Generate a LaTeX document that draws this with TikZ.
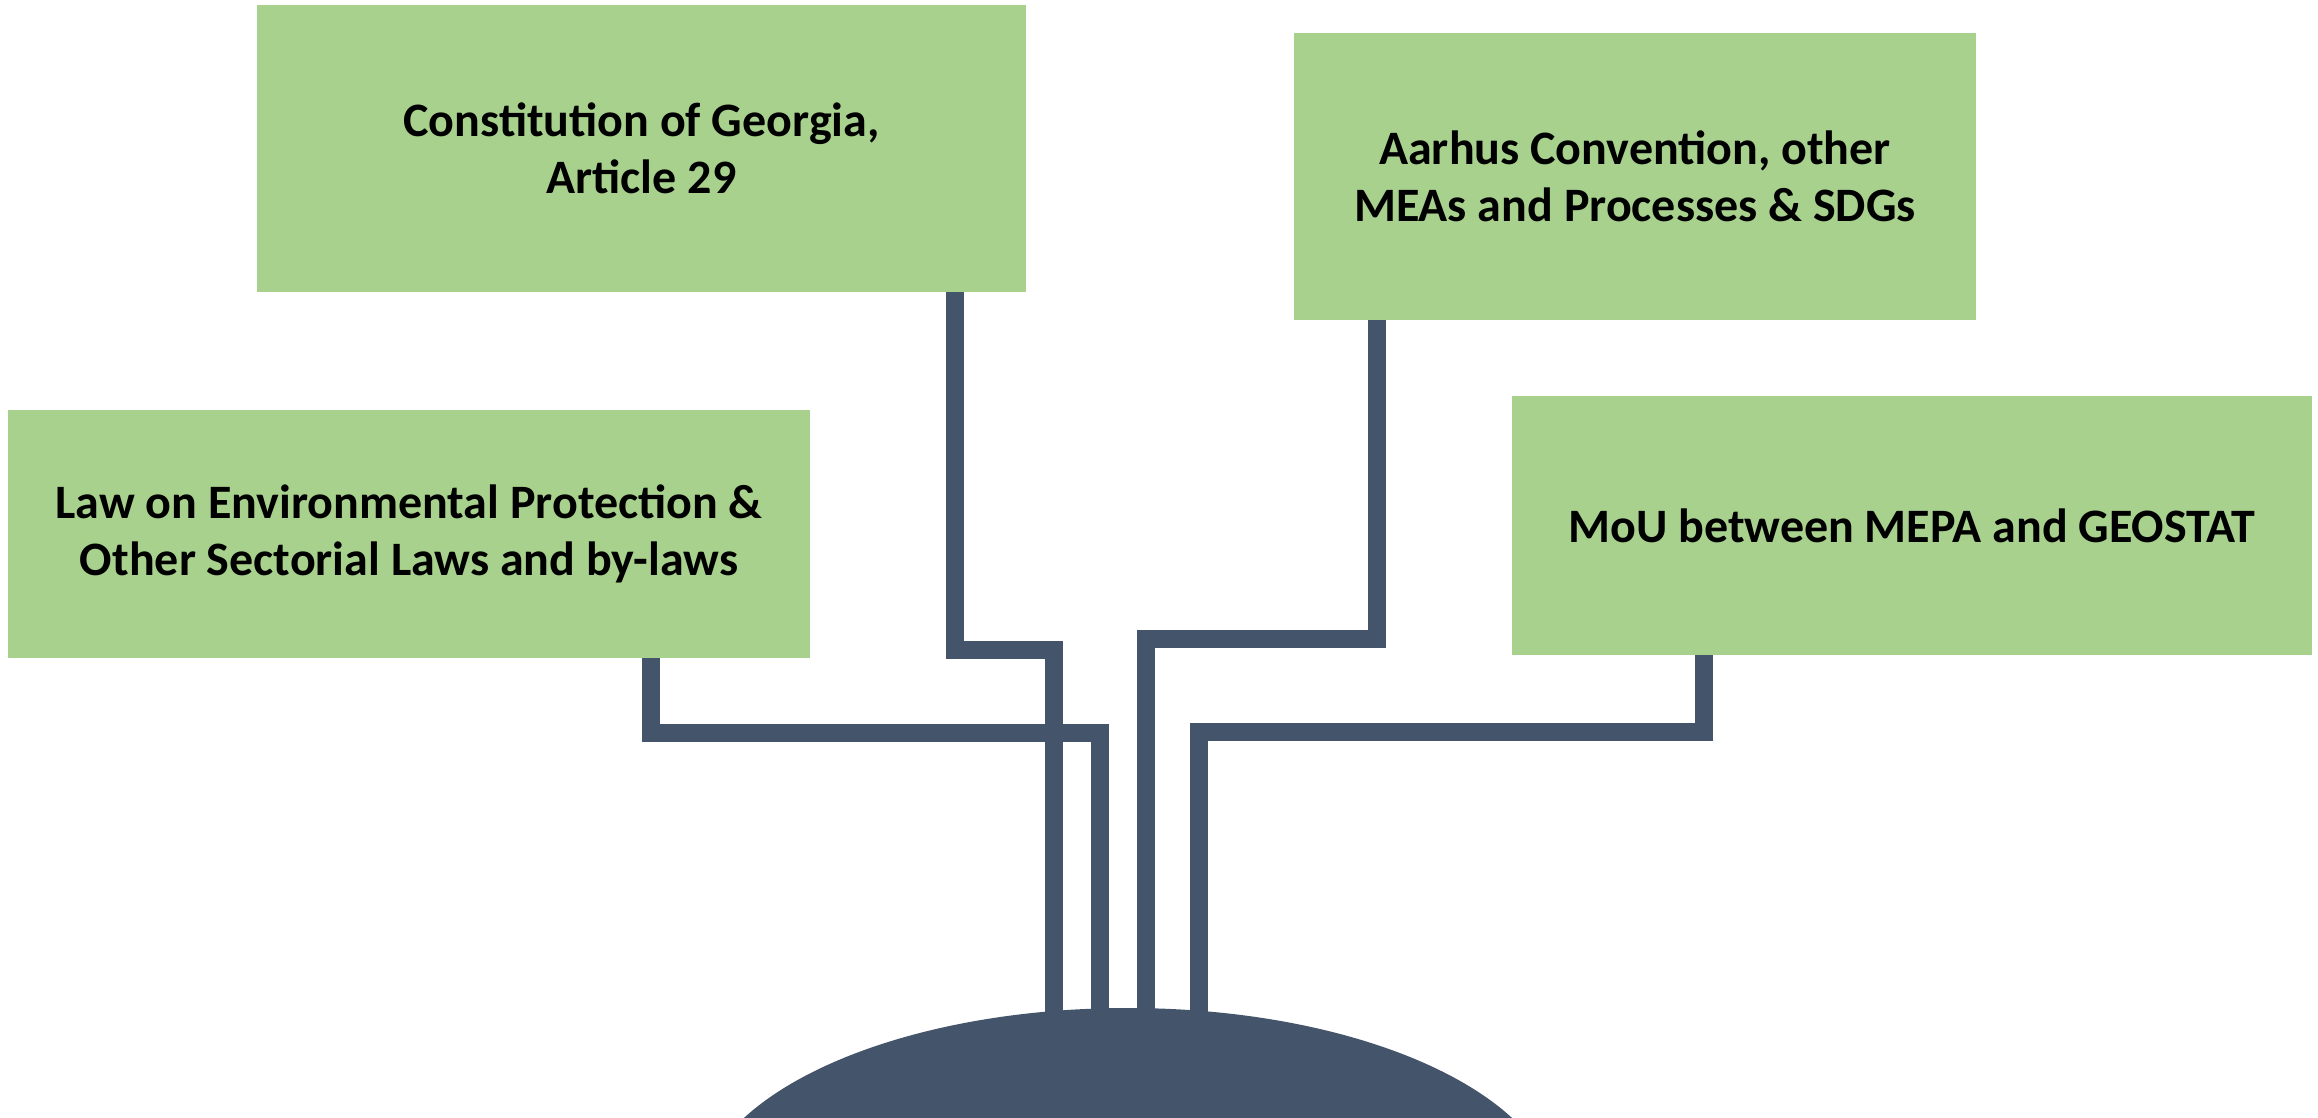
\documentclass[tikz,border=0pt]{standalone}
\usepackage{fontspec}
\setmainfont{Carlito}
\usetikzlibrary{shapes.geometric}
\definecolor{boxgreen}{HTML}{A9D18E}
\definecolor{slate}{HTML}{44546A}
\begin{document}
\begin{tikzpicture}[x=1pt,y=-1pt,
  box/.style={rectangle,fill=boxgreen,inner sep=0pt,align=center,
    font=\fontsize{48}{57}\selectfont\bfseries},
  conn/.style={draw=slate,line width=18pt,line join=miter,line cap=butt}]
\useasboundingbox (0,0) rectangle (2318,1117);
\node[box,minimum width=769pt,minimum height=287pt] (cons) at (641.5,148.5) {Constitution of Georgia,\\Article 29};
\node[box,minimum width=802pt,minimum height=248pt] (law) at (409,534) {Law on Environmental Protection \&\\Other Sectorial Laws and by-laws};
\node[box,minimum width=682pt,minimum height=287pt] (aarhus) at (1635,176.5) {Aarhus Convention, other\\MEAs and Processes \& SDGs};
\node[box,minimum width=800pt,minimum height=259pt] (mou) at (1912,525.5) {MoU between MEPA and GEOSTAT};
\node[ellipse,fill=slate,minimum width=860pt,minimum height=400pt,inner sep=0pt] (ground) at (1128,1208) {};
\coordinate (g) at ([yshift=-25pt]ground.north);
% turning points
\coordinate (c1) at (955,650);  \coordinate (c2) at (1054,650);
\coordinate (l1) at (651,733);  \coordinate (l2) at (1100,733);
\coordinate (a1) at (1377,639); \coordinate (a2) at (1146,639);
\coordinate (m1) at (1704,732); \coordinate (m2) at (1199,732);
\draw[conn] (cons.south -| c1) -- (c1) -- (c2) -- (c2 |- g);
\draw[conn] (law.south -| l1) -- (l1) -- (l2) -- (l2 |- g);
\draw[conn] (aarhus.south -| a1) -- (a1) -- (a2) -- (a2 |- g);
\draw[conn] (mou.south -| m1) -- (m1) -- (m2) -- (m2 |- g);
\end{tikzpicture}
\end{document}
